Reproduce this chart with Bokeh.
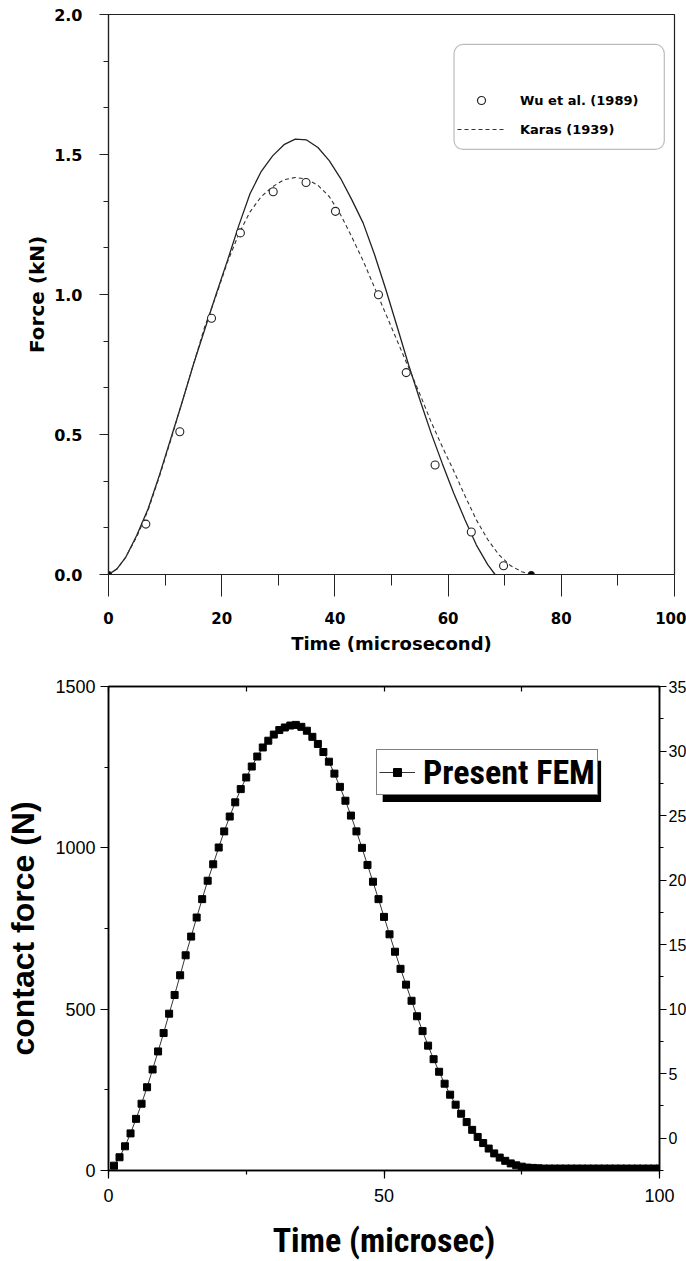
from bokeh.plotting import figure
from bokeh.models import (Range1d, LinearAxis, SingleIntervalTicker, Legend, LegendItem,
                          BoxAnnotation, ColumnDataSource, PrintfTickFormatter, CustomJSTickFormatter)
from bokeh.layouts import column
from bokeh.embed import file_html
from bokeh.resources import INLINE

# ---------------- data: top chart (Force in kN vs time in microseconds) ----------------
solid_t = [0, 1.5, 3, 5, 7, 9, 11, 13, 15, 17, 19, 21, 23, 25, 27, 29, 31, 33, 35, 37, 39,
           41, 43, 45, 47, 49, 51, 53, 55, 57, 59, 61, 63, 65, 67, 68.3]
solid_f = [0, 0.02, 0.06, 0.14, 0.235, 0.355, 0.485, 0.615, 0.75, 0.875, 1.0, 1.12, 1.245,
           1.36, 1.44, 1.495, 1.535, 1.555, 1.552, 1.525, 1.478, 1.415, 1.338, 1.255, 1.143,
           1.018, 0.885, 0.75, 0.625, 0.505, 0.395, 0.29, 0.195, 0.105, 0.035, 0.0]

karas_t = [0, 1.5, 3, 5, 7, 9, 11, 13, 15, 17, 19, 21, 23, 25, 27, 29, 31, 33, 35, 37, 39,
           41, 43, 45, 47, 49, 51, 53, 55, 57, 59, 61, 63, 65, 67, 69, 71, 73, 74.7]
karas_f = [0, 0.02, 0.06, 0.135, 0.23, 0.35, 0.48, 0.615, 0.75, 0.885, 0.995, 1.115, 1.215,
           1.295, 1.35, 1.385, 1.41, 1.418, 1.412, 1.39, 1.35, 1.285, 1.205, 1.12, 1.025,
           0.93, 0.835, 0.74, 0.645, 0.545, 0.455, 0.37, 0.28, 0.195, 0.125, 0.07, 0.032,
           0.01, 0.0]

wu_t = [0, 6.6, 12.6, 18.2, 23.3, 29.1, 34.9, 40.1, 47.7, 52.6, 57.7, 64.1, 69.8, 74.7]
wu_f = [0.0, 0.18, 0.51, 0.915, 1.22, 1.367, 1.40, 1.297, 0.999, 0.721, 0.391, 0.152, 0.031, 0.0]

# ---------------- data: bottom chart (contact force in N vs time) ----------------
fem_t = list(range(1, 101))
fem_f = [15, 41, 75, 115, 160, 207, 258, 313, 369, 426,
         486, 544, 605, 667, 725, 784, 841, 898, 949, 1001,
         1051, 1097, 1141, 1182, 1218, 1252, 1283, 1311, 1332, 1351,
         1365, 1373, 1379, 1381, 1375, 1363, 1344, 1322, 1297, 1267,
         1230, 1189, 1146, 1100, 1051, 1000, 947, 895, 841, 786,
         732, 678, 625, 576, 526, 478, 432, 387, 345, 306,
         269, 235, 204, 176, 150, 126, 104, 85, 68, 53,
         40, 30, 22, 16, 12, 9, 8, 7, 6, 6,
         6, 6, 6, 6, 6, 6, 6, 6, 6, 6,
         6, 6, 6, 6, 6, 6, 6, 6, 6, 6]

TOPF = "DejaVu Sans"
INK = "#222222"
NAN = float("nan")

# ============================ top figure ============================
p1 = figure(frame_width=566, frame_height=560, x_range=Range1d(0, 100), y_range=Range1d(0, 2),
            min_border_left=102, min_border_right=18, min_border_top=14, min_border_bottom=86,
            output_backend="svg", toolbar_location=None)
p1.xgrid.visible = False
p1.ygrid.visible = False
p1.outline_line_color = INK
p1.outline_line_width = 1.2
p1.background_fill_color = "white"

xa = p1.xaxis[0]
xa.ticker = SingleIntervalTicker(interval=20, num_minor_ticks=2)
xa.major_tick_out = 22
xa.major_tick_in = 0
xa.minor_tick_out = 11
xa.minor_tick_in = 0
xa.major_label_standoff = 15
xa.major_label_text_font = TOPF
xa.major_label_text_font_style = "bold"
xa.major_label_text_font_size = "15px"
xa.major_label_text_color = "black"
xa.axis_label = "Time (microsecond)"
xa.axis_label_text_font = TOPF
xa.axis_label_text_font_style = "bold"
xa.axis_label_text_font_size = "18px"
xa.axis_label_text_color = "black"
xa.axis_label_standoff = 6
xa.axis_line_color = INK
xa.major_tick_line_color = INK
xa.minor_tick_line_color = INK
xa.axis_line_width = 1.2

ya = p1.yaxis[0]
ya.ticker = SingleIntervalTicker(interval=0.5, num_minor_ticks=3)
ya.formatter = PrintfTickFormatter(format="%.1f")
ya.major_tick_out = 9
ya.major_tick_in = 0
ya.minor_tick_out = 5
ya.minor_tick_in = 0
ya.major_label_standoff = 17
ya.major_label_text_font = TOPF
ya.major_label_text_font_style = "bold"
ya.major_label_text_font_size = "16px"
ya.major_label_text_color = "black"
ya.axis_label = "Force (kN)"
ya.axis_label_text_font = TOPF
ya.axis_label_text_font_style = "bold"
ya.axis_label_text_font_size = "20px"
ya.axis_label_text_color = "black"
ya.axis_label_standoff = 2
ya.axis_line_color = INK
ya.major_tick_line_color = INK
ya.minor_tick_line_color = INK
ya.axis_line_width = 1.2

p1.line(solid_t, solid_f, line_color=INK, line_width=1.3)
p1.line(karas_t, karas_f, line_color="#333333", line_width=1.1, line_dash="4 3")

wu_src = ColumnDataSource(dict(
    t=wu_t, f=wu_f,
    fill=["black" if v == 0 else "white" for v in wu_f],
    sz=[6 if v == 0 else 8 for v in wu_f]))
p1.scatter("t", "f", source=wu_src, marker="circle", size="sz", fill_color="fill",
           line_color=INK, line_width=1.1)

# legend (rounded frame + keys); key renderers carry no visible points
leg_box = BoxAnnotation(left=61.05, right=98.2, bottom=1.518, top=1.893,
                        fill_alpha=0, line_color=INK, line_width=1.2, border_radius=9)
p1.add_layout(leg_box)
k_wu = p1.scatter(x=[NAN], y=[NAN], marker="circle", size=19, fill_color=None,
                  line_color=INK, line_width=1.2)
k_ka = p1.line(x=[NAN, NAN], y=[NAN, NAN], line_color="#333333", line_width=1.1, line_dash="4 3")
leg1 = Legend(items=[LegendItem(label="Wu et al. (1989)", renderers=[k_wu]),
                     LegendItem(label="Karas (1939)", renderers=[k_ka])],
              location=(349, 435), border_line_color=None, background_fill_alpha=0,
              padding=0, margin=0, spacing=9, glyph_width=48, glyph_height=20,
              label_height=20, label_standoff=15, label_text_color="black",
              label_text_font=TOPF, label_text_font_style="bold", label_text_font_size="13px")
p1.add_layout(leg1)

# ============================ bottom figure ============================
NARROW = "Roboto Condensed, Liberation Sans Narrow, Liberation Sans"
p2 = figure(frame_width=551, frame_height=484, x_range=Range1d(0, 100), y_range=Range1d(0, 1500),
            min_border_left=108, min_border_right=27, min_border_top=26, min_border_bottom=91,
            output_backend="svg", toolbar_location=None)
p2.xgrid.visible = False
p2.ygrid.visible = False
p2.outline_line_color = "black"
p2.outline_line_width = 1.5
p2.extra_y_ranges = {"right": Range1d(-2.5, 35)}

bx = p2.xaxis[0]
bx.ticker = SingleIntervalTicker(interval=50, num_minor_ticks=2)
bx.major_tick_out = 8
bx.major_tick_in = 0
bx.minor_tick_out = 4
bx.minor_tick_in = 0
bx.major_label_standoff = 10
bx.major_label_text_font = "Liberation Sans"
bx.major_label_text_font_size = "18px"
bx.major_label_text_color = "black"
bx.axis_label = "Time (microsec)"
bx.axis_label_text_font = NARROW
bx.axis_label_text_font_style = "bold"
bx.axis_label_text_font_size = "34px"
bx.axis_label_text_color = "black"
bx.axis_label_standoff = 15

by = p2.yaxis[0]
by.ticker = SingleIntervalTicker(interval=500, num_minor_ticks=2)
by.major_tick_out = 8
by.major_tick_in = 0
by.minor_tick_out = 4
by.minor_tick_in = 0
by.major_label_standoff = 5
by.major_label_text_font = "Liberation Sans"
by.major_label_text_font_size = "18px"
by.major_label_text_color = "black"
by.axis_label = "contact force (N)"
by.axis_label_text_font = "Liberation Sans"
by.axis_label_text_font_style = "bold"
by.axis_label_text_font_size = "32px"
by.axis_label_text_color = "black"
by.axis_label_standoff = 11

ry = LinearAxis(y_range_name="right", ticker=SingleIntervalTicker(interval=5, num_minor_ticks=2))
ry.major_tick_out = 7
ry.major_tick_in = 0
ry.minor_tick_out = 4
ry.minor_tick_in = 0
ry.major_label_standoff = 2
ry.major_label_text_font = "Liberation Sans"
ry.major_label_text_font_size = "16px"
ry.major_label_text_color = "black"
p2.add_layout(ry, "right")

tx = LinearAxis(ticker=SingleIntervalTicker(interval=25, num_minor_ticks=0),
                formatter=CustomJSTickFormatter(code="return ''"))
tx.major_tick_in = 5
tx.major_tick_out = 0
tx.minor_tick_in = 0
tx.minor_tick_out = 0
tx.major_label_standoff = 0
tx.major_label_text_font_size = "1px"
p2.add_layout(tx, "above")

for a in (bx, by, ry, tx):
    a.axis_line_color = "black"
    a.axis_line_width = 1.5
    a.major_tick_line_color = "black"
    a.minor_tick_line_color = "black"
    a.major_tick_line_width = 1.2
    a.minor_tick_line_width = 1.2

fem_line = p2.line(fem_t, fem_f, line_color="black", line_width=0.8)
fem_sq = p2.scatter(fem_t, fem_f, marker="square", size=7, fill_color="black", line_color="black")

shadow = BoxAnnotation(left=49.76, right=89.4, bottom=1142, top=1270,
                       fill_color="black", fill_alpha=1, line_color=None)
p2.add_layout(shadow)
leg2 = Legend(items=[LegendItem(label="Present FEM", renderers=[fem_line, fem_sq])],
              location=(268, 375), border_line_color="black", border_line_width=1.2,
              background_fill_color="white", background_fill_alpha=1,
              padding=2, margin=0, glyph_width=36, glyph_height=20, label_standoff=8,
              label_width=172, label_text_color="black",
              label_text_font=NARROW, label_text_font_style="bold", label_text_font_size="34px")
p2.add_layout(leg2)

layout = column(p1, p2)
open("out.html", "w").write(file_html(layout, INLINE))
